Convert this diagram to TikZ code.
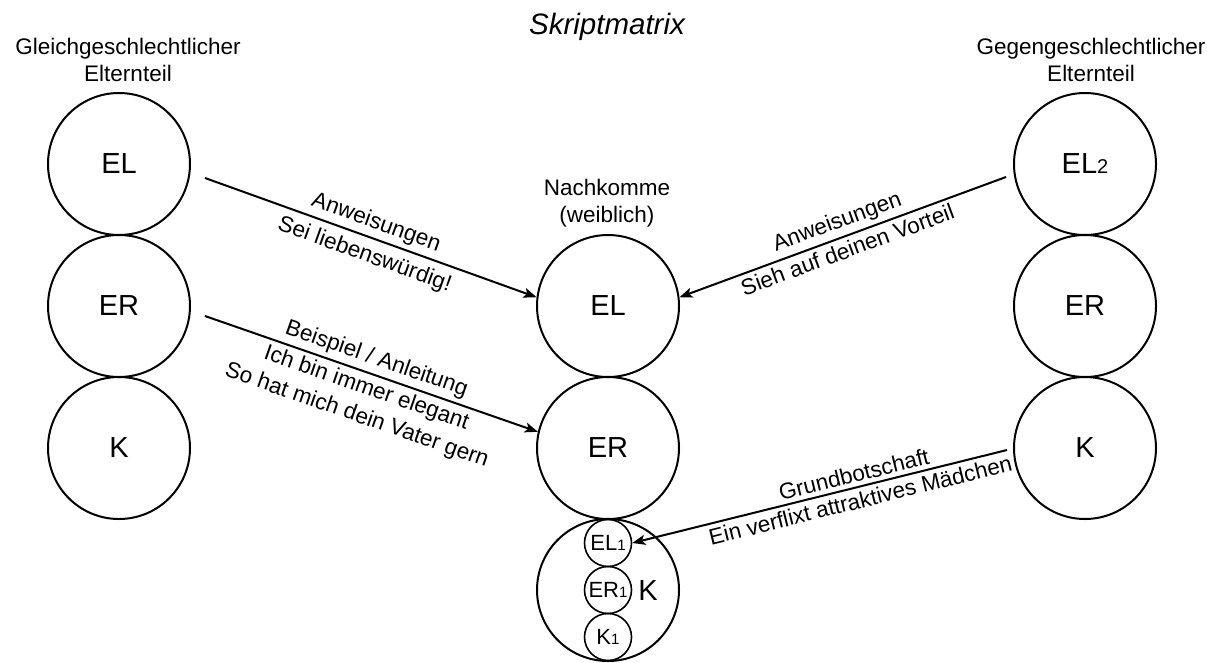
\documentclass[tikz,border=0pt]{standalone}
\usepackage{fontspec}
\setmainfont{Liberation Sans}
\usetikzlibrary{arrows.meta}
\newcommand{\idx}[2]{{\fontsize{#1}{#1}\selectfont #2}}
\begin{document}
\begin{tikzpicture}[x=1pt,y=-1pt,
  ring/.style={circle, draw, line width=2pt, minimum size=142pt, inner sep=0pt,
               font=\fontsize{29}{29}\selectfont},
  minir/.style={circle, draw, line width=1.6pt, minimum size=47pt, inner sep=0pt,
                font=\fontsize{22}{22}\selectfont},
  head/.style={align=center, inner sep=0pt, font=\fontsize{22.5}{27}\selectfont},
  msg/.style={-{Stealth[length=13pt,width=10pt,inset=3pt]}, line width=2pt},
  lbl/.style={sloped, align=center, inner sep=4pt, font=\fontsize{22.5}{29}\selectfont},
]
\useasboundingbox (0,0) rectangle (1207,662);

% headings
\node[head, anchor=base, font=\fontsize{29.5}{30}\selectfont\itshape] (title) at (607,34) {Skriptmatrix};
\node[head, anchor=north] (hleft) at (128,38) {Gleichgeschlechtlicher\\Elternteil};
\node[head, anchor=north] (hright) at (1091,38) {Gegengeschlechtlicher\\Elternteil};
\node[head, anchor=north] (hmid) at (607,179) {Nachkomme\\(weiblich)};

% same-sex parent
\node[ring] (lEL) at (119,164) {EL};
\node[ring] (lER) at (119,306) {ER};
\node[ring] (lK)  at (119,448) {K};

% offspring
\node[ring] (cEL) at (608,306) {EL};
\node[ring] (cER) at (608,448) {ER};
\node[ring] (cK)  at (608,590) {};
\node[minir] (sEL) at (608,543) {EL\idx{15}{1}};
\node[minir] (sER) at (608,590) {ER\idx{15}{1}};
\node[minir] (sK)  at (608,637) {K\idx{15}{1}};
\node[font=\fontsize{29}{29}\selectfont, inner sep=0pt] (cKl) at (648,591) {K};

% opposite-sex parent
\node[ring] (rEL) at (1085,164) {EL\idx{20}{2}};
\node[ring] (rER) at (1085,306) {ER};
\node[ring] (rK)  at (1085,448) {K};

% message starting points
\coordinate (m1) at (205,178);
\coordinate (m2) at (205,316);
\coordinate (m3) at (1006,177);
\coordinate (m4) at (1007,450);

\draw[msg] (m1) -- (cEL.173)
  node[lbl, pos=0.5, above] (t1a) {Anweisungen}
  node[lbl, pos=0.5, below, inner sep=7pt] (t1b) {Sei liebenswürdig!};
\draw[msg] (m2) -- (cER.167)
  node[lbl, pos=0.5, above] (t2a) {Beispiel / Anleitung}
  node[lbl, pos=0.5, below] (t2b) {Ich bin immer elegant\\So hat mich dein Vater gern};
\draw[msg] (m3) -- (cEL.7)
  node[lbl, pos=0.5, above] (t3a) {Anweisungen}
  node[lbl, pos=0.5, below] (t3b) {Sieh auf deinen Vorteil};
\draw[msg] (m4) -- (sEL.east)
  node[lbl, pos=0.4, above] (t4a) {Grundbotschaft}
  node[lbl, pos=0.4, below] (t4b) {Ein verflixt attraktives Mädchen};
\end{tikzpicture}
\end{document}
